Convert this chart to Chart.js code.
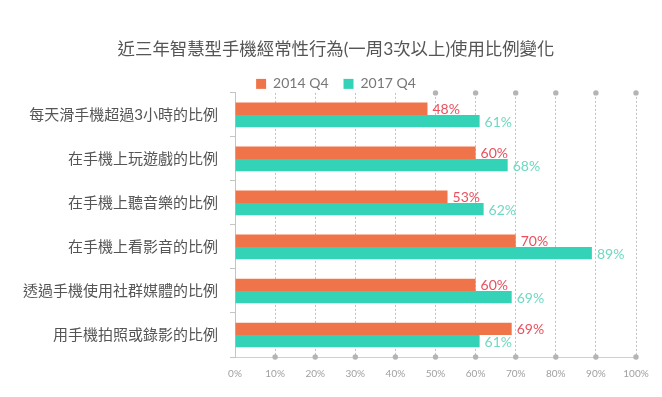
<!DOCTYPE html>
<html>
<head>
<meta charset="utf-8">
<script src="https://cdn.jsdelivr.net/npm/chart.js@4/dist/chart.umd.min.js"></script>
<style>
  html, body { margin: 0; padding: 0; background: #fff; }
  #wrap { width: 662px; height: 397px; }
</style>
</head>
<body>
<div id="wrap"><canvas id="myChart" width="662" height="397"></canvas></div>
<script>
const categories = ['每天滑手機超過3小時的比例', '在手機上玩遊戲的比例', '在手機上聽音樂的比例', '在手機上看影音的比例', '透過手機使用社群媒體的比例', '用手機拍照或錄影的比例'];
const values2014 = [48, 60, 53, 70, 60, 69];
const values2017 = [61, 68, 62, 89, 69, 61];
const seriesNames = ['2014 Q4', '2017 Q4'];
const chartTitle = '近三年智慧型手機經常性行為(一周3次以上)使用比例變化';

const FONT = "Lato, 'Noto Sans CJK TC', sans-serif";
const barColors = ['#f07449', '#34d2b6'];
const labelColors = ['#ea4f5c', '#6fd8c2'];

// etichette percentuali a fine barra
const valueLabels = {
    id: 'valueLabels',
    afterDatasetsDraw(chart) {
        const c = chart.ctx;
        c.save();
        c.font = '14px ' + FONT;
        c.textAlign = 'left';
        c.textBaseline = 'middle';
        chart.data.datasets.forEach((ds, i) => {
            const meta = chart.getDatasetMeta(i);
            meta.data.forEach((bar, j) => {
                c.fillStyle = labelColors[i];
                c.fillText(ds.data[j] + '%', bar.x + 5, bar.y + 1);
            });
        });
        c.restore();
    }
};

// pallini grigi alle estremità della griglia
const gridDots = {
    id: 'gridDots',
    afterDatasetsDraw(chart) {
        const c = chart.ctx;
        const x = chart.scales.x;
        const area = chart.chartArea;
        let legendRight = 0;
        if (chart.legend && chart.legend.legendHitBoxes) {
            chart.legend.legendHitBoxes.forEach(b => { legendRight = Math.max(legendRight, b.left + b.width); });
        }
        c.save();
        c.fillStyle = '#b4b4b4';
        x.ticks.forEach(t => {
            if (t.value === 0) return;
            const px = x.getPixelForValue(t.value);
            c.beginPath();
            c.arc(px, area.bottom, 2.7, 0, Math.PI * 2);
            c.fill();
            if (px > legendRight + 6) {
                c.beginPath();
                c.arc(px, area.top, 2.7, 0, Math.PI * 2);
                c.fill();
            }
        });
        c.restore();
    }
};

// la legenda di Chart.js lascia troppo spazio sotto: lo riduco,
// poi sposto titolo e legenda un po' a destra come nell'originale
const tightLegend = {
    id: 'tightLegend',
    beforeLayout(chart) {
        const lg = chart.legend;
        if (lg && !lg._tight) {
            const fit = lg.fit.bind(lg);
            lg.fit = function () { fit(); this.height -= 8; };
            lg._tight = true;
        }
    },
    afterLayout(chart) {
        [chart.titleBlock, chart.legend].forEach(b => {
            if (b) { b.left += 18; b.right += 18; }
        });
    }
};

const ctx = document.getElementById('myChart').getContext('2d');
const myChart = new Chart(ctx, {
    type: 'bar',
    data: {
        labels: categories,
        datasets: [{
            label: seriesNames[0],
            data: values2014,
            backgroundColor: barColors[0],
            categoryPercentage: 0.56,
            barPercentage: 1
        }, {
            label: seriesNames[1],
            data: values2017,
            backgroundColor: barColors[1],
            categoryPercentage: 0.56,
            barPercentage: 1
        }]
    },
    options: {
        indexAxis: 'y',
        responsive: false,
        animation: false,
        layout: { padding: { left: 0, right: 26, top: 0, bottom: 0 } },
        scales: {
            x: {
                min: 0,
                max: 100,
                ticks: {
                    stepSize: 10,
                    color: '#a0a0a0',
                    font: { family: FONT, size: 10 },
                    padding: 11,
                    callback: v => v + '%'
                },
                grid: {
                    color: '#c2c2c2',
                    drawTicks: false
                },
                border: { display: true, color: '#cfcfcf', dash: [2, 2] },
                afterFit(scale) { scale.height = 40; }
            },
            y: {
                ticks: {
                    color: '#555',
                    font: { family: FONT, size: 15 },
                    padding: 12
                },
                grid: {
                    drawOnChartArea: false,
                    drawTicks: true,
                    tickLength: 5,
                    color: '#c4c4c4'
                },
                border: { display: true, color: '#c4c4c4' },
                afterFit(scale) { scale.width = 235; }
            }
        },
        plugins: {
            title: {
                display: true,
                text: chartTitle,
                color: '#555',
                font: { family: FONT, size: 17.4, weight: 'normal' },
                padding: { top: 39, bottom: 2 }
            },
            legend: {
                display: true,
                labels: {
                    boxWidth: 10,
                    boxHeight: 10,
                    color: '#777',
                    font: { family: FONT, size: 14 },
                    padding: 15
                }
            },
            tooltip: { enabled: false }
        }
    },
    plugins: [tightLegend, gridDots, valueLabels]
});
</script>
</body>
</html>
